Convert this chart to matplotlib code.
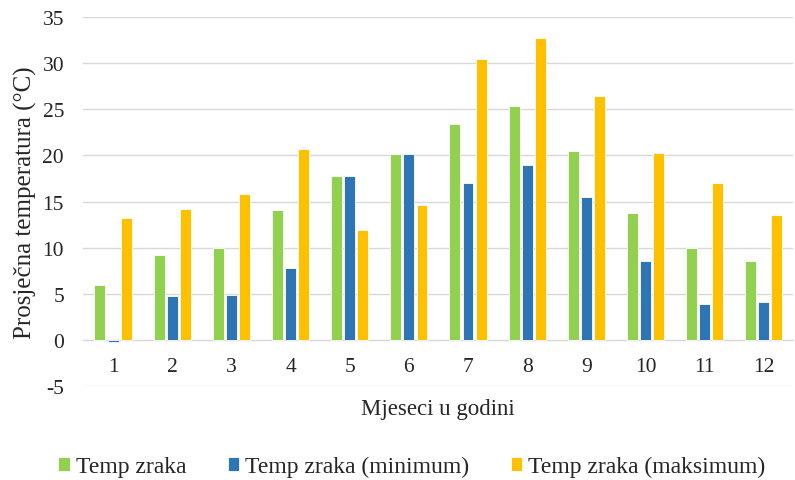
import matplotlib
matplotlib.use("Agg")
import matplotlib.pyplot as plt
import numpy as np

# Monthly temperatures
months = ["1", "2", "3", "4", "5", "6", "7", "8", "9", "10", "11", "12"]
temp_avg = [6.0, 9.2, 10.0, 14.1, 17.8, 20.2, 23.4, 25.4, 20.5, 13.7, 10.0, 8.6]
temp_min = [-0.2, 4.8, 4.9, 7.8, 17.8, 20.2, 17.0, 19.0, 15.5, 8.6, 3.9, 4.1]
temp_max = [13.2, 14.2, 15.8, 20.7, 11.9, 14.6, 30.4, 32.7, 26.4, 20.3, 17.0, 13.5]
series_names = ["Temp zraka", "Temp zraka (minimum)", "Temp zraka (maksimum)"]

C_GREEN = "#92D050"
C_BLUE = "#2E75B6"
C_ORANGE = "#FFC000"

plt.rcParams["font.family"] = ["Liberation Serif", "DejaVu Serif"]
plt.rcParams["axes.unicode_minus"] = False

fig = plt.figure(figsize=(7.95, 4.81), dpi=100)
ax = fig.add_axes([0.105, 0.1954, 0.893, 0.7672])

x = np.arange(1, len(months) + 1)
w = 0.185
step = 0.222
for off, vals, col, name in [(-step, temp_avg, C_GREEN, series_names[0]),
                             (0, temp_min, C_BLUE, series_names[1]),
                             (step, temp_max, C_ORANGE, series_names[2])]:
    ax.bar(x + off, vals, w, color=col, edgecolor="white", linewidth=0.6,
           label=name, zorder=3)

ax.set_xlim(0.5, 12.5)
ax.set_ylim(-5, 35)
ax.set_yticks(np.arange(-5, 36, 5))
ax.yaxis.grid(True, color="#d9d9d9", linewidth=1, zorder=0)
for s in ["top", "right", "left"]:
    ax.spines[s].set_visible(False)
ax.spines["bottom"].set_position(("data", 0))
ax.spines["bottom"].set_color("#d9d9d9")
ax.spines["bottom"].set_zorder(2)
ax.tick_params(axis="y", length=0, labelsize=15.5, pad=14, colors="#262626")
ax.tick_params(axis="x", length=0, labelsize=15.5, pad=12, colors="#262626")
ax.set_xticks(x, months)

ax.set_ylabel("Prosječna temperatura (°C)", fontsize=18, labelpad=4, color="#262626")
fig.text(0.551, 0.148, "Mjeseci u godini", fontsize=16.5, ha="center", va="center",
         color="#262626")

handles, labels = ax.get_legend_handles_labels()
leg = fig.legend(handles, labels, loc="center", bbox_to_anchor=(0.518, 0.028), ncol=3,
                 frameon=False, fontsize=17, handlelength=0.5, handleheight=0.55,
                 handletextpad=0.25, columnspacing=1.75)
for t in leg.get_texts():
    t.set_color("#262626")

fig.savefig("out.png", dpi=100)
